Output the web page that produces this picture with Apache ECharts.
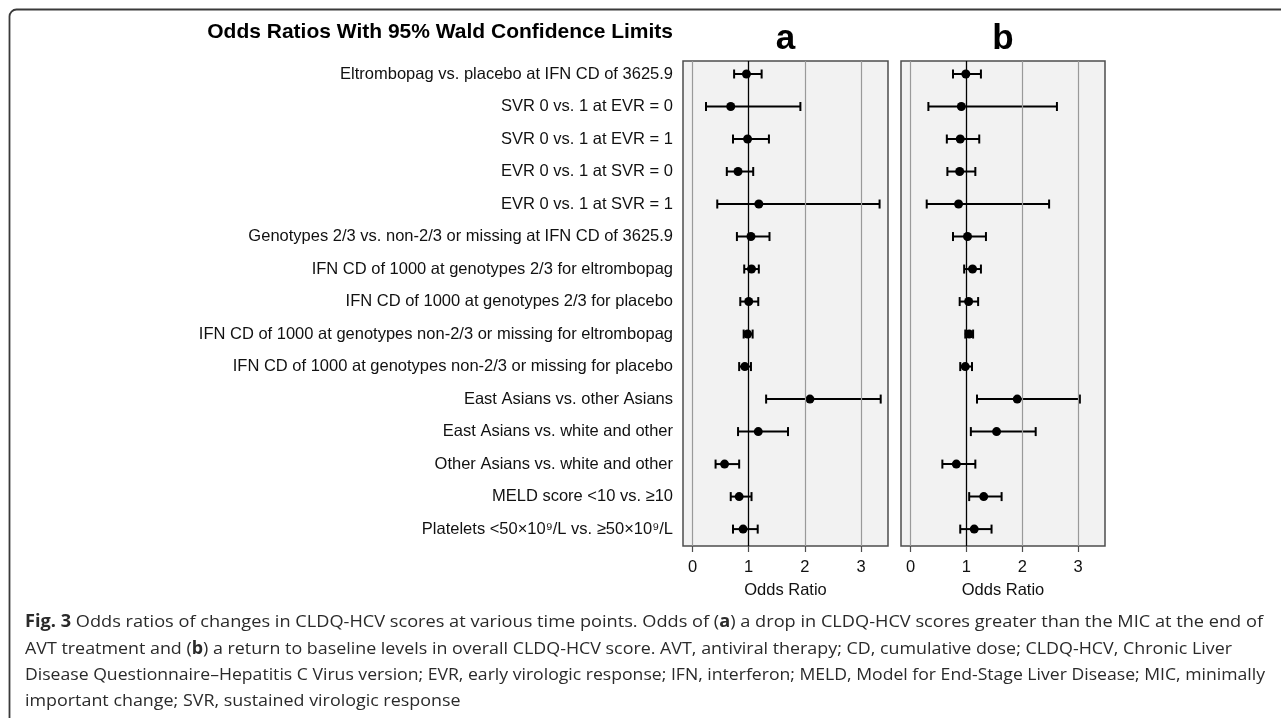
<!DOCTYPE html>
<html>
<head>
<meta charset="utf-8">
<script src="https://cdn.jsdelivr.net/npm/echarts@6/dist/echarts.min.js"></script>
<style>
html,body{margin:0;padding:0;background:#fff;}
#chart{width:1281px;height:718px;}
</style>
</head>
<body>
<div id="chart"></div>
<script>
const categories = [
  "Eltrombopag vs. placebo at IFN CD of 3625.9",
  "SVR 0 vs. 1 at EVR = 0",
  "SVR 0 vs. 1 at EVR = 1",
  "EVR 0 vs. 1 at SVR = 0",
  "EVR 0 vs. 1 at SVR = 1",
  "Genotypes 2/3 vs. non-2/3 or missing at IFN CD of 3625.9",
  "IFN CD of 1000 at genotypes 2/3 for eltrombopag",
  "IFN CD of 1000 at genotypes 2/3 for placebo",
  "IFN CD of 1000 at genotypes non-2/3 or missing for eltrombopag",
  "IFN CD of 1000 at genotypes non-2/3 or missing for placebo",
  "East Asians vs. other Asians",
  "East Asians vs. white and other",
  "Other Asians vs. white and other",
  "MELD score <10 vs. \u226510",
  "Platelets <50\u00d710\u2079/L vs. \u226550\u00d710\u2079/L"
];
// Panel a
const aOR   = [0.96, 0.68, 0.98, 0.81, 1.18, 1.04, 1.05, 1.00, 0.98, 0.93, 2.09, 1.17, 0.57, 0.83, 0.90];
const aLow  = [0.74, 0.24, 0.72, 0.61, 0.44, 0.79, 0.92, 0.85, 0.91, 0.83, 1.31, 0.81, 0.41, 0.68, 0.72];
const aHigh = [1.23, 1.92, 1.36, 1.08, 3.33, 1.37, 1.18, 1.17, 1.07, 1.04, 3.35, 1.70, 0.83, 1.05, 1.16];
// Panel b
const bOR   = [0.99, 0.91, 0.89, 0.88, 0.86, 1.02, 1.11, 1.04, 1.05, 0.98, 1.91, 1.54, 0.82, 1.31, 1.14];
const bLow  = [0.76, 0.32, 0.65, 0.66, 0.29, 0.76, 0.96, 0.88, 0.98, 0.89, 1.19, 1.08, 0.57, 1.05, 0.89];
const bHigh = [1.26, 2.62, 1.23, 1.16, 2.48, 1.35, 1.26, 1.21, 1.12, 1.10, 3.03, 2.24, 1.16, 1.63, 1.45];

const xTicks = [0, 1, 2, 3];
const refValue = 1;
const gridValues = [0, 2, 3];
const panelTitles = ["a", "b"];
const chartTitle = "Odds Ratios With 95% Wald Confidence Limits";
const axisTitle = "Odds Ratio";
const captionLines = [
  "{b|Fig. 3} Odds ratios of changes in CLDQ-HCV scores at various time points. Odds of ({b|a}) a drop in CLDQ-HCV scores greater than the MIC at the end of",
  "AVT treatment and ({b|b}) a return to baseline levels in overall CLDQ-HCV score. AVT, antiviral therapy; CD, cumulative dose; CLDQ-HCV, Chronic Liver",
  "Disease Questionnaire\u2013Hepatitis C Virus version; EVR, early virologic response; IFN, interferon; MELD, Model for End-Stage Liver Disease; MIC, minimally",
  "important change; SVR, sustained virologic response"
];

const FONT = '"Liberation Sans", Arial, sans-serif';
const CAPFONT = '"Open Sans", "Noto Sans", sans-serif';
const CAPSIZE = 17;
const capLeft = 25;
const capRight = [1263, 1232, 1265, null];
const capY = [622, 649, 675, 701];

// measure caption lines to fit reference widths (layout only)
const mctx = document.createElement('canvas').getContext('2d');
function measureLine(t) {
  const parts = t.split(/(\{b\|[^}]*\})/);
  let w = 0;
  parts.forEach(p => {
    if (!p) return;
    const m = p.match(/^\{b\|([^}]*)\}$/);
    if (m) { mctx.font = 'bold ' + CAPSIZE + 'px ' + CAPFONT; w += mctx.measureText(m[1]).width; }
    else { mctx.font = CAPSIZE + 'px ' + CAPFONT; w += mctx.measureText(p).width; }
  });
  return w;
}
const capScales = captionLines.map((t, i) => {
  if (capRight[i] == null) return null;
  const w = measureLine(t);
  return w > 0 ? (capRight[i] - capLeft) / w : 1;
});
const known = capScales.filter(s => s != null);
const meanScale = known.reduce((a, b) => a + b, 0) / known.length;

const chart = echarts.init(document.getElementById('chart'), null, {renderer: 'canvas'});

function renderErr(params, api) {
  const y = api.value(2);
  const p1 = api.coord([api.value(0), y]);
  const p2 = api.coord([api.value(1), y]);
  const h = 4.5;
  const style = {stroke: '#000', lineWidth: 2};
  return {
    type: 'group',
    children: [
      {type: 'line', shape: {x1: p1[0], y1: p1[1], x2: p2[0], y2: p2[1]}, style: style},
      {type: 'line', shape: {x1: p1[0], y1: p1[1] - h, x2: p1[0], y2: p1[1] + h}, style: style},
      {type: 'line', shape: {x1: p2[0], y1: p2[1] - h, x2: p2[0], y2: p2[1] + h}, style: style}
    ]
  };
}

const rowIdx = categories.map((c, i) => i + 1);

function xAxisFor(idx) {
  return {
    gridIndex: idx, type: 'value', min: -0.17, max: 3.48,
    axisLine: {show: false},
    splitLine: {show: false},
    axisTick: {show: true, length: 6, customValues: xTicks, lineStyle: {color: '#4d4d4d', width: 1.2}},
    axisLabel: {customValues: xTicks, fontSize: 16.5, color: '#111', margin: 13, fontFamily: FONT},
    name: axisTitle, nameLocation: 'middle', nameGap: 36,
    nameTextStyle: {fontSize: 16.5, color: '#111', fontFamily: FONT}
  };
}
function yAxisFor(idx, showLabels) {
  return {
    gridIndex: idx, type: 'value', inverse: true, min: 0.6, max: 15.52,
    axisLine: {show: false}, axisTick: {show: false}, splitLine: {show: false},
    axisLabel: {
      show: showLabels, customValues: rowIdx, margin: 10,
      fontSize: 16.5, color: '#111', fontFamily: FONT,
      formatter: v => categories[Math.round(v) - 1] || ''
    }
  };
}
function refLines(idx) {
  return {
    type: 'scatter', xAxisIndex: idx, yAxisIndex: idx, data: [], z: 1, silent: true,
    markLine: {
      silent: true, symbol: ['none', 'none'], label: {show: false}, animation: false,
      data: gridValues.map(v => ({xAxis: v, lineStyle: {color: '#9a9a9a', width: 1.2, type: 'solid'}}))
        .concat([{xAxis: refValue, lineStyle: {color: '#000', width: 1.3, type: 'solid'}}])
    }
  };
}
function errSeries(idx, lo, hi) {
  return {
    type: 'custom', xAxisIndex: idx, yAxisIndex: idx, z: 2, silent: true,
    renderItem: renderErr,
    encode: {x: [0, 1], y: 2},
    data: categories.map((c, i) => [lo[i], hi[i], i + 1])
  };
}
function ptSeries(idx, or) {
  return {
    type: 'scatter', xAxisIndex: idx, yAxisIndex: idx, z: 3, silent: true,
    symbol: 'circle', symbolSize: 9, itemStyle: {color: '#000', opacity: 1},
    data: categories.map((c, i) => [or[i], i + 1])
  };
}

const graphics = [
  {type: 'rect', shape: {x: 9.5, y: 9.5, width: 1320, height: 800, r: 7}, style: {fill: 'none', stroke: '#3a3a3a', lineWidth: 1.8}, silent: true},
  {type: 'text', x: 673, y: 43, style: {text: chartTitle, font: 'bold 21px ' + FONT, fill: '#000', textAlign: 'right', textVerticalAlign: 'bottom'}, silent: true},
  {type: 'text', x: 785.5, y: 57, style: {text: panelTitles[0], font: 'bold 35px ' + FONT, fill: '#000', textAlign: 'center', textVerticalAlign: 'bottom'}, silent: true},
  {type: 'text', x: 1003, y: 57, style: {text: panelTitles[1], font: 'bold 35px ' + FONT, fill: '#000', textAlign: 'center', textVerticalAlign: 'bottom'}, silent: true}
];
captionLines.forEach((t, i) => {
  graphics.push({
    type: 'text', x: capLeft, y: capY[i], scaleX: capScales[i] != null ? capScales[i] : meanScale, silent: true,
    style: {
      text: t, fontFamily: CAPFONT, fontSize: CAPSIZE, fill: '#2a2a2a',
      textAlign: 'left', textVerticalAlign: 'middle',
      rich: {b: {fontWeight: 'bold', fontFamily: CAPFONT, fontSize: CAPSIZE, fill: '#2a2a2a'}}
    }
  });
});

chart.setOption({
  animation: false,
  backgroundColor: '#fff',
  grid: [
    {left: 683, top: 61, width: 205, height: 485, show: true, backgroundColor: '#f2f2f2', borderColor: '#4d4d4d', borderWidth: 1.5},
    {left: 901, top: 61, width: 204, height: 485, show: true, backgroundColor: '#f2f2f2', borderColor: '#4d4d4d', borderWidth: 1.5}
  ],
  xAxis: [xAxisFor(0), xAxisFor(1)],
  yAxis: [yAxisFor(0, true), yAxisFor(1, false)],
  series: [
    refLines(0), errSeries(0, aLow, aHigh), ptSeries(0, aOR),
    refLines(1), errSeries(1, bLow, bHigh), ptSeries(1, bOR)
  ],
  graphic: graphics
});
</script>
</body>
</html>
